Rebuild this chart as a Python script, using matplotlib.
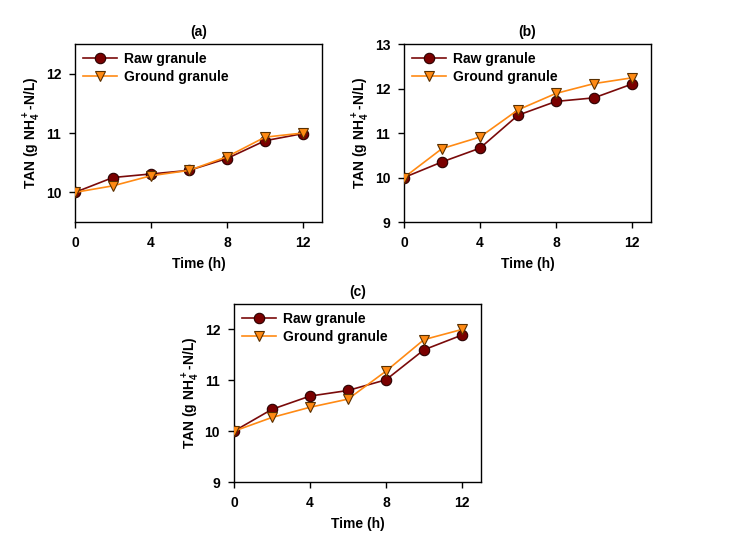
import matplotlib
matplotlib.use("Agg")
import matplotlib.pyplot as plt

plt.rcParams['font.family'] = ['Liberation Sans', 'DejaVu Sans']
plt.rcParams['font.weight'] = 'bold'
plt.rcParams['axes.labelweight'] = 'bold'
plt.rcParams['axes.titleweight'] = 'bold'
plt.rcParams['font.size'] = 10
plt.rcParams['mathtext.fontset'] = 'custom'
plt.rcParams['mathtext.rm'] = 'Liberation Sans:bold'
plt.rcParams['mathtext.bf'] = 'Liberation Sans:bold'
plt.rcParams['mathtext.default'] = 'bf'

# data
time_h = [0, 2, 4, 6, 8, 10, 12]

raw_a = [10.0, 10.25, 10.31, 10.37, 10.57, 10.87, 10.99]
ground_a = [10.0, 10.11, 10.28, 10.37, 10.60, 10.93, 11.0]

raw_b = [10.0, 10.35, 10.66, 11.40, 11.71, 11.79, 12.10]
ground_b = [10.0, 10.65, 10.91, 11.52, 11.89, 12.11, 12.24]

raw_c = [10.0, 10.43, 10.69, 10.80, 11.01, 11.60, 11.89]
ground_c = [10.0, 10.27, 10.47, 10.63, 11.18, 11.80, 12.0]

panel_titles = ['(a)', '(b)', '(c)']
ylims = [(9.5, 12.5), (9, 13), (9, 12.5)]
yticks = [[10, 11, 12], [9, 10, 11, 12, 13], [9, 10, 11, 12]]

raw_col = '#7a0a0a'
ground_col = '#ff8a14'

fig = plt.figure(figsize=(7.37, 5.36), dpi=100)
positions = [
    [0.1018, 0.5858, 0.3351, 0.3321],
    [0.5482, 0.5858, 0.3351, 0.3321],
    [0.3175, 0.1007, 0.3351, 0.3321],
]
raws = [raw_a, raw_b, raw_c]
grounds = [ground_a, ground_b, ground_c]

for i in range(3):
    ax = fig.add_axes(positions[i])
    ax.plot(time_h, raws[i], color=raw_col, lw=1.2, marker='o', ms=7.5,
            mfc='#7a0000', mec='#2a0000', mew=0.8, label='Raw granule', zorder=3)
    ax.plot(time_h, grounds[i], color=ground_col, lw=1.2, marker='v', ms=7.5,
            mfc='#ff8a14', mec='#5a3000', mew=0.8, label='Ground granule', zorder=3)
    ax.set_xlim(0, 13)
    ax.set_ylim(*ylims[i])
    ax.set_xticks([0, 4, 8, 12])
    ax.set_yticks(yticks[i])
    ax.tick_params(direction='out', length=4, width=1, top=False, right=False, pad=6)
    for s in ax.spines.values():
        s.set_linewidth(1)
    ax.set_xlabel('Time (h)', labelpad=5)
    ax.set_ylabel(r'TAN (g NH$_4^+$-N/L)', labelpad=2)
    ax.set_title(panel_titles[i], fontsize=10, pad=6)
    ax.legend(loc='upper left', frameon=False, handlelength=2.4, handletextpad=0.5,
              borderaxespad=0.2, labelspacing=0.25, fontsize=10)

fig.savefig('out.png', dpi=100)
